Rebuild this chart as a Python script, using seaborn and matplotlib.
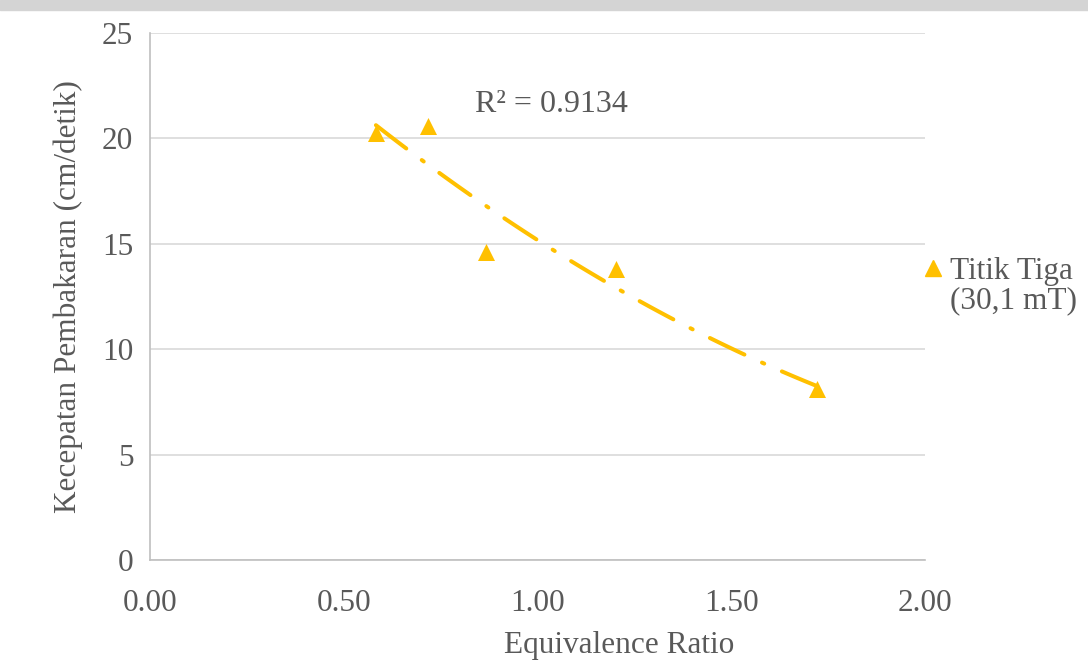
import numpy as np
import pandas as pd
import matplotlib
matplotlib.use("Agg")
import matplotlib.pyplot as plt
import seaborn as sns
from matplotlib.lines import Line2D
from matplotlib.patches import Rectangle

# data
equivalence_ratio = [0.583, 0.717, 0.867, 1.203, 1.721]
burning_velocity = [20.25, 20.6, 14.6, 13.8, 8.1]
series_label = "Titik Tiga\n(30,1 mT)"
r2_label = "R² = 0.9134"
x_ticks = [0.0, 0.5, 1.0, 1.5, 2.0]
y_ticks = [0, 5, 10, 15, 20, 25]

df = pd.DataFrame({"x": equivalence_ratio, "y": burning_velocity})

sns.set_theme(style="white")
plt.rcParams["font.family"] = ["Liberation Serif", "DejaVu Serif"]

gold = "#FFC000"
txt = "#595959"
fs = 22.5

fig = plt.figure(figsize=(10.88, 6.66), dpi=100)
fig.patches.append(Rectangle((0, 0.985), 1, 0.015, transform=fig.transFigure,
                             color="#d4d4d4", zorder=-10))
ax = fig.add_axes([150/1088, 1-560/666, (925-150)/1088, (560-33)/666])

sns.regplot(data=df, x="x", y="y", order=2, ci=None, ax=ax, marker="^",
            scatter_kws=dict(s=150, color=gold, alpha=1, linewidths=0, zorder=3),
            line_kws=dict(color=gold, lw=2.9, linestyle=(0, (9.5, 4.8, 0.6, 4.8)),
                          dash_capstyle="round", zorder=2))

ax.set_xlim(0, 2)
ax.set_ylim(0, 25)
ax.set_xticks(x_ticks)
ax.set_xticklabels([f"{t:.2f}" for t in x_ticks])
ax.set_yticks(y_ticks)
ax.yaxis.grid(True, color="#d9d9d9", lw=1.2)
ax.xaxis.grid(False)
for s in ["top", "right"]:
    ax.spines[s].set_visible(False)
for s in ["left", "bottom"]:
    ax.spines[s].set_color("#bfbfbf")
    ax.spines[s].set_linewidth(1.2)
ax.tick_params(axis="both", labelsize=fs, colors=txt, length=0)
ax.tick_params(axis="y", pad=12)
ax.tick_params(axis="x", pad=21)
ax.set_xlabel("Equivalence Ratio", fontsize=fs, color=txt)
ax.xaxis.set_label_coords((619-150)/775, -(645-560)/527)
ax.xaxis.label.set_va("center")
ax.set_ylabel("Kecepatan Pembakaran (cm/detik)", fontsize=fs, color=txt, labelpad=14)

ax.text(0.839, 21.6, r2_label, fontsize=23, color=txt, ha="left", va="center")

handle = Line2D([], [], marker="^", color=gold, linestyle="none", markersize=11)
leg = fig.legend([handle], [series_label], loc="upper left",
                 bbox_to_anchor=(908/1088, 1-245/666), frameon=False,
                 fontsize=fs, handletextpad=0.15, handlelength=0.8,
                 borderaxespad=0, labelspacing=0)
for t in leg.get_texts():
    t.set_color(txt)
    t.set_linespacing(1.0)
try:
    for col in leg._legend_handle_box.get_children():
        for item in col.get_children():
            item.align = "top"
except Exception:
    pass

fig.savefig("out.png", dpi=100)
